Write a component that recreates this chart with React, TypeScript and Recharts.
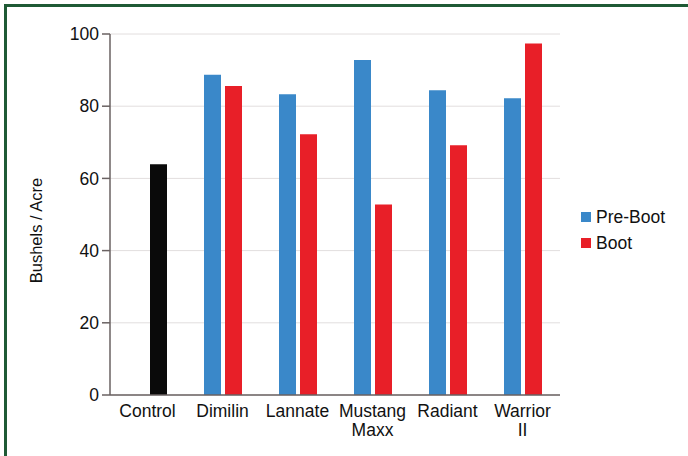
import React from 'react';
import { BarChart, Bar, XAxis, YAxis, CartesianGrid, Cell } from 'recharts';

const categories = ['Control', 'Dimilin', 'Lannate', 'Mustang\nMaxx', 'Radiant', 'Warrior\nII'];
const preBoot = [null, 88.7, 83.3, 92.8, 84.4, 82.2];
const boot = [63.9, 85.6, 72.2, 52.8, 69.2, 97.4];
const yTicks = [0, 20, 40, 60, 80, 100];
const legendItems = ['Pre-Boot', 'Boot'];

const data = categories.map((name, i) => ({ name, preBoot: preBoot[i], boot: boot[i] }));

const FONT = '"Liberation Sans", Arial, sans-serif';
const BLUE = '#3a88c9';
const RED = '#e81f28';
const AXIS = '#6a6262';

const CategoryTick = (props: any) => {
  const { x, y, payload } = props;
  const lines = String(payload.value).split('\n');
  return (
    <text x={x} y={y} textAnchor="middle" fill="#111" fontSize={17.5} fontFamily={FONT}>
      {lines.map((line, i) => (
        <tspan key={i} x={x} dy={i === 0 ? 14 : 18.5}>{line}</tspan>
      ))}
    </text>
  );
};

const App: React.FC = () => {
  return (
    <div style={{ position: 'fixed', top: 0, left: 0, width: 688, height: 456, background: '#fff' }}>
      <div
        style={{
          position: 'absolute', top: 4, left: 4, right: 0, bottom: 0,
          borderTop: '3px solid #1f5a35', borderLeft: '3px solid #1f5a35',
        }}
      />
      <BarChart
        width={688}
        height={456}
        data={data}
        margin={{ top: 34, right: 128, bottom: 31, left: 20 }}
        barGap={4}
        barSize={17}
      >
        <CartesianGrid vertical={false} stroke="#e2dede" />
        <XAxis
          dataKey="name"
          height={30}
          tickLine={false}
          axisLine={{ stroke: AXIS, strokeWidth: 1.5 }}
          interval={0}
          tick={<CategoryTick />}
          tickMargin={2}
        />
        <YAxis
          width={90}
          domain={[0, 100]}
          ticks={yTicks}
          tickSize={8}
          tickMargin={3}
          axisLine={{ stroke: AXIS, strokeWidth: 1.5 }}
          tickLine={{ stroke: AXIS, strokeWidth: 1.5 }}
          tick={{ fill: '#111', fontSize: 17.5, fontFamily: FONT }}
          label={{
            value: 'Bushels / Acre',
            angle: -90,
            position: 'insideLeft',
            offset: 0,
            dx: 16,
            dy: 16,
            style: { textAnchor: 'middle', fill: '#111', fontSize: 16.5, fontFamily: FONT },
          }}
        />
        <Bar dataKey="preBoot" name="Pre-Boot" fill={BLUE} isAnimationActive={false} />
        <Bar dataKey="boot" name="Boot" fill={RED} isAnimationActive={false}>
          {data.map((d, i) => (
            <Cell key={i} fill={i === 0 ? '#0a0a0a' : RED} />
          ))}
        </Bar>
      </BarChart>
      <div style={{ position: 'absolute', left: 581, top: 204, fontFamily: FONT, fontSize: 17.5, color: '#111' }}>
        {legendItems.map((label, i) => (
          <div key={label} style={{ display: 'flex', alignItems: 'center', height: 26 }}>
            <span style={{ width: 10, height: 10, background: i === 0 ? BLUE : RED, marginRight: 5, display: 'inline-block' }} />
            {label}
          </div>
        ))}
      </div>
    </div>
  );
};

export default App;
